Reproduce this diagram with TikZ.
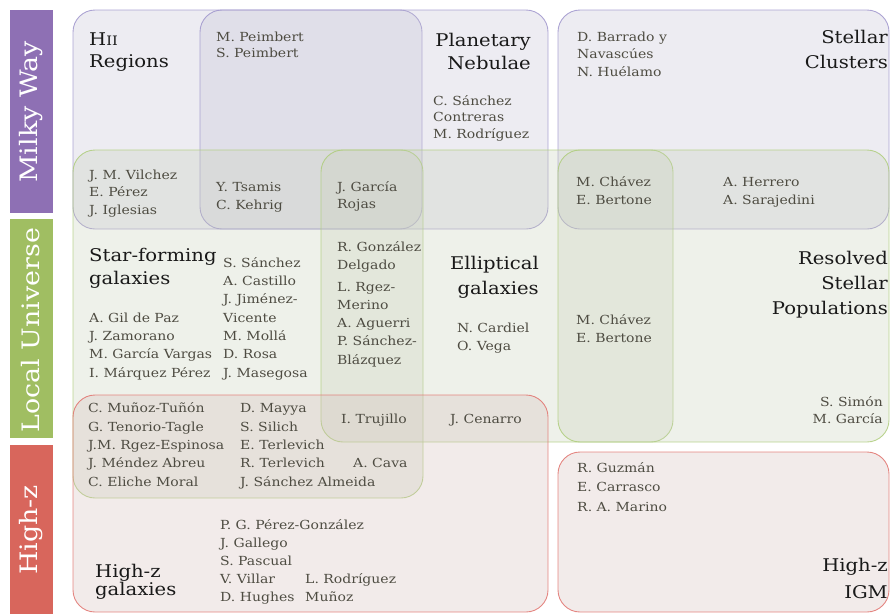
\documentclass[tikz,border=0pt]{standalone}
\usepackage{fontspec}
\setmainfont{DejaVu Serif}[FakeStretch=1.12]
\definecolor{pline}{RGB}{160,150,205}
\definecolor{gline}{RGB}{175,205,125}
\definecolor{rline}{RGB}{225,115,110}
\definecolor{pfill}{RGB}{195,193,212}
\definecolor{gfill}{RGB}{200,208,185}
\definecolor{rfill}{RGB}{212,190,186}
\definecolor{pbar}{RGB}{142,112,180}
\definecolor{gbar}{RGB}{160,190,98}
\definecolor{rbar}{RGB}{216,102,92}
\definecolor{namec}{RGB}{78,76,66}
\definecolor{titlec}{RGB}{25,25,25}
\begin{document}
\begin{tikzpicture}[x=1pt,y=-1pt,
  box/.style={rounded corners=22pt, line width=0.9pt, fill opacity=0.3, draw opacity=0.85},
  pbox/.style={box, draw=pline, fill=pfill},
  gbox/.style={box, draw=gline, fill=gfill},
  rbox/.style={box, draw=rline, fill=rfill},
  nm/.style={font=\fontsize{12.5}{18}\selectfont, text=namec, inner sep=0pt, align=left, anchor=base west},
  nmr/.style={nm, align=right, anchor=base east},
  ttl/.style={font=\fontsize{17.5}{23}\selectfont, text=titlec, inner sep=0pt, align=left, anchor=base west},
  ttlr/.style={ttl, align=right, anchor=base east},
  side/.style={font=\fontsize{24}{24}\selectfont, text=white, rotate=90, inner sep=0pt}
]
\useasboundingbox (0,0) rectangle (891,614);
% side bars
\fill[pbar] (10,10) rectangle (53,213);
\fill[gbar] (10,219) rectangle (53,438);
\fill[rbar] (10,445) rectangle (53,614);
\node[side] (mw) at (31,112) {Milky Way};
\node[side] (lu) at (31,330) {Local Universe};
\node[side] (hz) at (31,530) {High-z};
% boxes
\path[pbox] (73,10) rectangle (422,229);
\path[pbox] (200,10) rectangle (548,229);
\path[pbox] (558,10) rectangle (889,229);
\path[gbox] (73,150) rectangle (423,498);
\path[gbox] (321,150) rectangle (673,442);
\path[gbox] (558,150) rectangle (889,442);
\path[rbox] (73,395) rectangle (548,612);
\path[rbox] (558,452) rectangle (889,612);
% titles (anchor = baseline of last line)
\node[ttl, font=\fontsize{17.5}{22}\selectfont] (thii) at (89,67) {H{\fontsize{13}{13}\selectfont II}\\Regions};
\node[ttlr] (tpn) at (531,69) {Planetary\\Nebulae};
\node[ttlr, font=\fontsize{17.5}{25}\selectfont] (tsc) at (888,68) {Stellar\\Clusters};
\node[ttl] (tsf) at (89,284) {Star-forming\\galaxies};
\node[ttlr, font=\fontsize{17.5}{25}\selectfont] (teg) at (539,294) {Elliptical\\galaxies};
\node[ttlr, font=\fontsize{17.5}{25}\selectfont] (trs) at (888,314) {Resolved\\Stellar\\Populations};
\node[ttl, font=\fontsize{17.5}{18}\selectfont] (thg) at (95,595) {High-z\\galaxies};
\node[ttlr, font=\fontsize{17.5}{27}\selectfont] (tig) at (888,598) {High-z\\IGM};
% names (anchor = baseline of last line)
\node[nm, font=\fontsize{12.5}{16}\selectfont] (pe) at (216,57) {M. Peimbert\\S. Peimbert};
\node[nm, font=\fontsize{12.5}{16.5}\selectfont] (sc) at (433,138) {C. Sánchez\\Contreras\\M. Rodríguez};
\node[nm, font=\fontsize{12.5}{17.5}\selectfont] (ba) at (577,76) {D. Barrado y\\Navascúes\\N. Huélamo};
\node[nm, font=\fontsize{12.5}{17.5}\selectfont] (vi) at (89,214) {J. M. Vilchez\\E. Pérez\\J. Iglesias};
\node[nm] (ts) at (216,209) {Y. Tsamis\\C. Kehrig};
\node[nm, font=\fontsize{12.5}{17}\selectfont] (gr) at (337,208) {J. García\\Rojas};
\node[nm] (ch1) at (576,204) {M. Chávez\\E. Bertone};
\node[nm] (he) at (723,204) {A. Herrero\\A. Sarajedini};
\node[nm, font=\fontsize{12.5}{18.3}\selectfont] (ss) at (223,377) {S. Sánchez\\A. Castillo\\J. Jiménez-\\Vicente\\M. Mollá\\D. Rosa\\J. Masegosa};
\node[nm, font=\fontsize{12.5}{18.3}\selectfont] (gi) at (89,377) {A. Gil de Paz\\J. Zamorano\\M. García Vargas\\I. Márquez Pérez};
\node[nm] (go) at (337,269) {R. González\\Delgado};
\node[nm, font=\fontsize{12.5}{18.2}\selectfont] (rg) at (337,364) {L. Rgez-\\Merino\\A. Aguerri\\P. Sánchez-\\Blázquez};
\node[nm] (ca) at (457,350) {N. Cardiel\\O. Vega};
\node[nm] (ch2) at (576,342) {M. Chávez\\E. Bertone};
\node[nmr, font=\fontsize{12.5}{17}\selectfont] (si) at (883,423) {S. Simón\\M. García};
\node[nm, font=\fontsize{12.5}{18.3}\selectfont] (mu) at (88,486) {C. Muñoz-Tuñón\\G. Tenorio-Tagle\\J.M. Rgez-Espinosa\\J. Méndez Abreu\\C. Eliche Moral};
\node[nm, font=\fontsize{12.5}{18.3}\selectfont] (ma) at (240,486) {D. Mayya\\S. Silich\\E. Terlevich\\R. Terlevich\\J. Sánchez Almeida};
\node[nm] (cv) at (353,467) {A. Cava};
\node[nm] (tr) at (341,423) {I. Trujillo};
\node[nm] (ce) at (450,423) {J. Cenarro};
\node[nm, font=\fontsize{12.5}{19.5}\selectfont] (gu) at (577,511) {R. Guzmán\\E. Carrasco\\R. A. Marino};
\node[nm] (pg) at (220,601) {P. G. Pérez-González\\J. Gallego\\S. Pascual\\V. Villar\\D. Hughes};
\node[nm] (lr) at (305,601) {L. Rodríguez\\Muñoz};
\end{tikzpicture}
\end{document}
